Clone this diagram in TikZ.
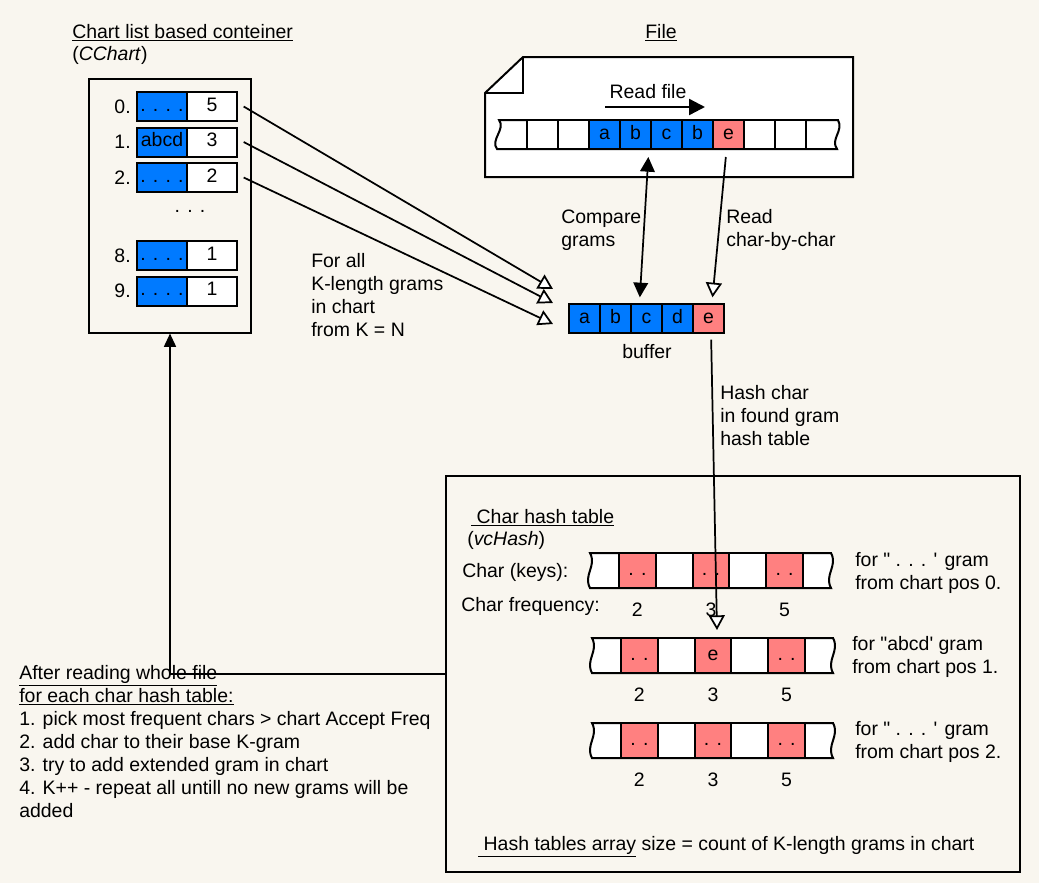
\documentclass[tikz,border=0pt]{standalone}
\usepackage{fontspec}
\newfontfamily\diagfont{Liberation Sans}
\usetikzlibrary{positioning,arrows.meta,calc}
\definecolor{bgcream}{RGB}{249,246,239}
\definecolor{cellblue}{RGB}{0,122,255}
\definecolor{cellpink}{RGB}{255,128,128}

\begin{document}
\begin{tikzpicture}[x=0.75pt, y=-0.75pt,
  font=\diagfont\fontsize{14.6}{17.25}\selectfont,
  every node/.style={align=left},
  cell/.style={draw, line width=1.5pt, inner sep=0pt, outer sep=0pt, fill=white,
    text height=10.4pt, text depth=3pt},
  chartcell/.style={cell, minimum width=37.5pt, minimum height=21.75pt},
  tapecell/.style={cell, minimum width=23.25pt, minimum height=21.75pt},
  hashcell/.style={cell, minimum width=27.6pt, minimum height=26.25pt},
  tapeline/.style={line width=1.5pt, fill=white},
  link/.style={line width=1.3pt},
  opentip/.style={link, -{Triangle[fill=white, length=11pt, width=12pt]}},
  solidtip/.style={link, -{Triangle[length=10pt, width=9pt]}},
  lbl/.style={anchor=west, inner sep=0pt}]

  \fill[bgcream] (0,0) rectangle (1039,883);
  \useasboundingbox (0,0) rectangle (1039,883);

  % chart container
  \node[lbl] (charttitle) at (72,33) {\underline{Chart list based conteiner}};
  \node[lbl] (chartsub) at (72,55) {(\textit{CChart})};
  \node[draw, line width=0.8pt, minimum width=121.5pt, minimum height=190.5pt] (chartbox) at (170,206) {};
  \foreach \k/\y/\key/\cnt in {0/106.5/{. . . .}/5, 1/142/abcd/3, 2/177.5/{. . . .}/2, 8/255.5/{. . . .}/1, 9/291/{. . . .}/1} {
    \node[chartcell, fill=cellblue] (key\k) at (162,\y) {\key};
    \node[chartcell, right=0pt of key\k] (cnt\k) {\cnt};
    \node[anchor=east, inner sep=0pt] (pos\k) at (131,\y) {\k.};
  }
  \node (chartdots) at (190,211) {. . .};

  % file
  \node (filetitle) at (661,33) {\underline{File}};
  \draw[line width=1.5pt, fill=white] (485,93) -- (523,57) -- (853,57) -- (853,177) -- (485,177) -- cycle;
  \draw[line width=1.5pt] (523,57) -- (523,93) -- (485,93);
  \draw[tapeline] (499,120) -- (838,120) .. controls (844,131) and (830,139) .. (837,149)
    -- (497,149) .. controls (490,140) and (506,129) .. (499,120) -- cycle;
  \foreach \i/\c/\t in {0/white/{},1/white/{},2/cellblue/a,3/cellblue/b,4/cellblue/c,5/cellblue/b,6/cellpink/e,7/white/{},8/white/{}}
    \node[tapecell, fill=\c] (fc\i) at (542.5+31*\i,134.5) {\t};
  \node (readfile) at (648,92) {Read file};
  \coordinate (rfa) at (605,107);
  \coordinate (rfb) at (705,107);
  \draw[line width=1.8pt, -{Triangle[length=12pt, width=12pt]}] (rfa) -- (rfb);

  % buffer
  \foreach \i/\c/\t in {0/cellblue/a,1/cellblue/b,2/cellblue/c,3/cellblue/d,4/cellpink/e}
    \node[tapecell, fill=\c] (buf\i) at (584.5+31*\i,318.5) {\t};
  \node (buflbl) at (647,352) {buffer};

  \draw[link, {Triangle[length=11pt, width=11pt]}-{Triangle[length=11pt, width=11pt]}]
    ([xshift=-2pt,yshift=-6pt]fc4.south west) -- ([xshift=-5pt,yshift=5pt]buf2.north);
  \draw[opentip] ([xshift=-2pt,yshift=-6pt]fc6.south) -- ([xshift=3pt,yshift=5pt]buf4.north);
  \node[lbl] (cmplbl) at (561,230) {Compare\\grams};
  \node[lbl] (readlbl) at (726,230) {Read\\char-by-char};

  % chart rows to buffer
  \coordinate (in0) at (553,289);
  \coordinate (in1) at (553,303);
  \coordinate (in2) at (553,324);
  \foreach \k in {0,1,2}
    \draw[opentip] ([xshift=5pt]cnt\k.east) -- (in\k);
  \node[lbl] (forall) at (311,295) {For all\\K-length grams\\in chart\\from K = N};

  % hash tables
  \node[draw, line width=0.8pt, minimum width=430.5pt, minimum height=297pt] (hashbox) at (733,674) {};
  \node[lbl] (hashtitle) at (471,518) {\underline{\ Char hash table}};
  \node[lbl] (hashsub) at (467,540) {(\textit{vcHash})};
  \node[lbl] (keyslbl) at (462,572) {Char (keys):};
  \node[lbl] (freqlbl) at (461,606) {Char frequency:};
  \foreach \r/\ox/\yt/\midtxt in {0/0/553/{. .}, 1/2/638/e, 2/2/723/{. .}} {
    \draw[tapeline] (590+\ox,\yt) -- (831+\ox,\yt) .. controls (838+\ox,\yt+13) and (824+\ox,\yt+22) .. (831+\ox,\yt+35)
      -- (590+\ox,\yt+35) .. controls (583+\ox,\yt+22) and (597+\ox,\yt+13) .. (590+\ox,\yt) -- cycle;
    \foreach \i/\c/\t in {0/cellpink/{. .},1/white/{},2/cellpink/\midtxt,3/white/{},4/cellpink/{. .}}
      \node[hashcell, fill=\c] (h\r-\i) at (637.4+\ox+36.8*\i,\yt+17.5) {\t};
    \foreach \i/\f in {0/2,2/3,4/5}
      \node (f\r-\i) at ($(h\r-\i.south)+(0,22)$) {\f};
  }
  \node[lbl] (gram0) at (855,572.5) {for " . . . ' gram\\from chart pos 0.};
  \node[lbl] (gram1) at (852,657) {for "abcd' gram\\from chart pos 1.};
  \node[lbl] (gram2) at (855,742) {for " . . . ' gram\\from chart pos 2.};
  \node[lbl] (arraylbl) at (478,847) {\underline{\ Hash tables array} size = count of K-length grams in chart};

  \draw[opentip] ([xshift=2pt,yshift=-5pt]buf4.south) -- ([xshift=3pt,yshift=6pt]h1-2.north);
  \node[lbl] (hashlbl) at (720,416) {Hash char\\in found gram\\hash table};

  % back to chart
  \node[lbl] (afterlbl) at (19,741.5) {\underline{After reading whole file}\\\underline{for each char hash table:}\\
    1. pick most frequent chars > chart Accept Freq\\2. add char to their base K-gram\\
    3. try to add extended gram in chart\\4. K++ - repeat all untill no new grams will be\\added};
  \draw[solidtip] (hashbox.west) -| (chartbox.south);
\end{tikzpicture}
\end{document}
